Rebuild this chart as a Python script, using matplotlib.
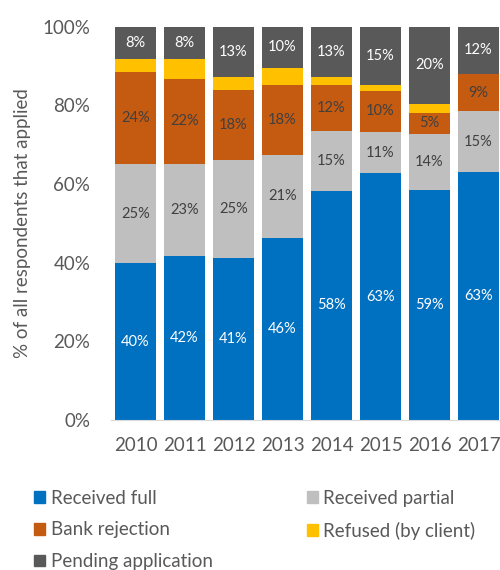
import matplotlib
matplotlib.use("Agg")
import matplotlib.pyplot as plt
from matplotlib.patches import Patch

years = ["2010", "2011", "2012", "2013", "2014", "2015", "2016", "2017"]
received_full = [39.9, 41.7, 41.2, 46.2, 58.3, 62.7, 58.6, 63.1]
received_partial = [25.1, 23.4, 25.0, 21.3, 15.2, 10.6, 14.1, 15.4]
bank_rejection = [23.6, 21.6, 17.6, 17.8, 11.8, 10.3, 5.4, 9.4]
refused = [3.2, 5.2, 3.3, 4.3, 2.0, 1.6, 2.3, 0.0]
pending = [8.2, 8.1, 12.9, 10.4, 12.7, 14.8, 19.6, 12.1]

series = [
    ("Received full", received_full, "#0070C0", "white", True),
    ("Received partial", received_partial, "#BFBFBF", "#404040", True),
    ("Bank rejection", bank_rejection, "#C55A11", "#404040", True),
    ("Refused (by client)", refused, "#FFC000", "#404040", False),
    ("Pending application", pending, "#595959", "white", True),
]

plt.rcParams['font.family'] = ['Lato', 'DejaVu Sans']
fig = plt.figure(figsize=(5.0, 5.7), dpi=100)
ax = fig.add_axes([111/500, 1-420/570, (503-111)/500, (420-26.7)/570])

x = list(range(len(years)))
bottom = [0.0]*len(years)
for name, vals, col, tcol, lab in series:
    ax.bar(x, vals, width=0.837, bottom=bottom, color=col, label=name, zorder=2)
    if lab:
        for i, (b, v) in enumerate(zip(bottom, vals)):
            ax.text(i, b + v/2, f"{v:.0f}%", ha="center", va="center",
                    color=tcol, fontsize=10.5, zorder=3)
    bottom = [b + v for b, v in zip(bottom, vals)]

ax.set_xlim(-0.5, 7.5)
ax.set_ylim(0, 100)
ax.set_xticks(x)
ax.set_xticklabels(years)
ax.set_yticks([0, 20, 40, 60, 80, 100])
ax.set_yticklabels([f"{v}%" for v in [0, 20, 40, 60, 80, 100]])
for s in ["top", "right", "left"]:
    ax.spines[s].set_visible(False)
ax.spines["bottom"].set_color("#D9D9D9")
ax.tick_params(axis="both", length=0, colors="#595959", labelsize=13.5)
ax.tick_params(axis="y", pad=15)
ax.tick_params(axis="x", pad=12)
ax.set_ylabel("% of all respondents that applied", color="#595959", fontsize=13.5, labelpad=8)

handles = [Patch(color=s[2]) for s in series]
names = [s[0] for s in series]
order = [0, 2, 4, 1, 3]
fig.legend([handles[i] for i in order], [names[i] for i in order],
           ncol=2, loc="upper left", bbox_to_anchor=(17/500, 1-473/570),
           frameon=False, fontsize=13.5, labelcolor="#595959",
           handlelength=0.6, handleheight=0.6, handletextpad=0.3,
           columnspacing=5.0, labelspacing=0.78)

fig.savefig("out.png", dpi=100)
